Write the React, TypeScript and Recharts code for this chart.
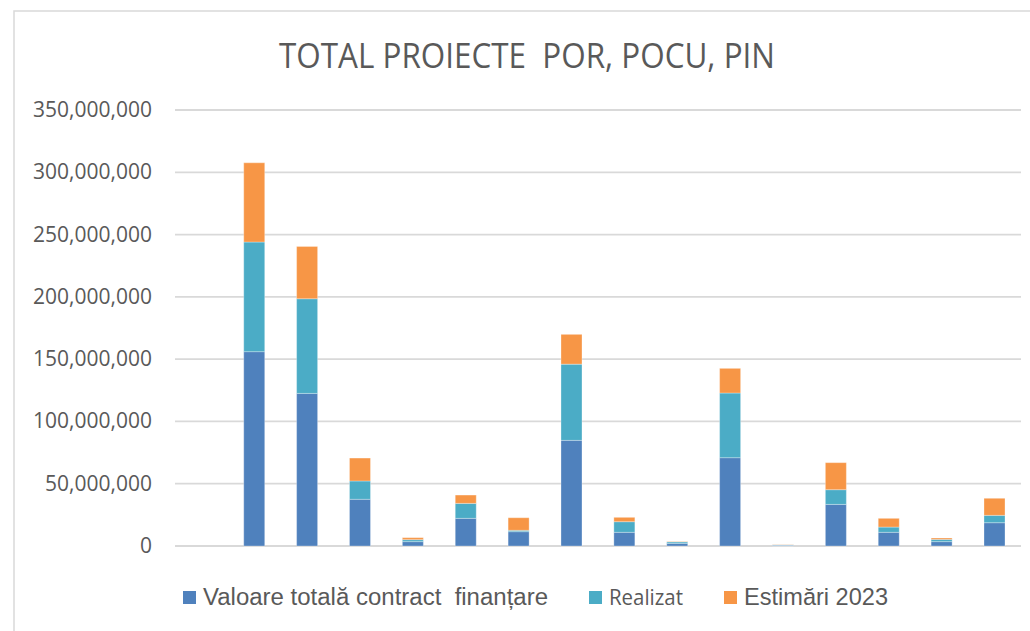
import { Bar, BarChart, CartesianGrid, XAxis, YAxis } from 'recharts'

// 16 slots on the x axis, the first one is empty; no labels are shown in the source
const categories = ['', 'P1', 'P2', 'P3', 'P4', 'P5', 'P6', 'P7', 'P8', 'P9', 'P10', 'P11', 'P12', 'P13', 'P14', 'P15']

const valoareTotala = [null, 156000000, 122500000, 37500000, 3500000, 22200000, 11500000, 84800000, 11000000, 2100000, 70900000, 600000, 33400000, 11000000, 3500000, 18700000]
const realizat = [null, 88000000, 76000000, 14700000, 1600000, 12000000, 1100000, 61200000, 8500000, 1200000, 51900000, 300000, 11800000, 4200000, 1800000, 5900000]
const estimari2023 = [null, 63600000, 42000000, 18400000, 1600000, 6700000, 10100000, 23900000, 3500000, 300000, 19800000, 200000, 21700000, 7000000, 1100000, 13700000]

const yTicks = [0, 50000000, 100000000, 150000000, 200000000, 250000000, 300000000, 350000000]

const seriesKeys = ['valoare', 'realizat', 'estimari']
const seriesNames = ['Valoare totală contract  finanțare', 'Realizat', 'Estimări 2023']
const seriesColors = ['#4F81BD', '#4BACC6', '#F79646']

const chartData = categories.map((name, i) => ({
  name,
  valoare: valoareTotala[i],
  realizat: realizat[i],
  estimari: estimari2023[i],
}))

const fmt = (v: number) => v.toLocaleString('en-US')

function YTick(props: any) {
  const { x, y, payload } = props
  return (
    <text
      x={x - 15}
      y={y + 7}
      textAnchor="end"
      fontFamily="'Open Sans', sans-serif"
      fontSize={21}
      fill="#595959"
    >
      {fmt(payload.value)}
    </text>
  )
}

// legend placement as in the source picture (square x, text x, text width, font)
const legendLayout = [
  { sq: 183, tx: 203, w: 345, font: "'Liberation Sans', Arial, sans-serif", size: 23.5 },
  { sq: 589, tx: 609, w: 74, font: "'Open Sans', sans-serif", size: 21 },
  { sq: 724, tx: 744, w: 144, font: "'Liberation Sans', Arial, sans-serif", size: 24.5 },
]

export default function App() {
  return (
    <div style={{ position: 'absolute', left: 0, top: 0, width: 1030, height: 631, background: '#fff', overflow: 'hidden' }}>
      <div style={{ position: 'absolute', left: 0, top: 0 }}>
        <BarChart
          width={1030}
          height={631}
          data={chartData}
          margin={{ top: 110, right: 9, bottom: 85, left: 15 }}
          barCategoryGap="30%"
        >
          <CartesianGrid vertical={false} stroke="#d9d9d9" strokeWidth={1.8} />
          <XAxis dataKey="name" hide />
          <YAxis
            width={160}
            domain={[0, 350000000]}
            ticks={yTicks}
            interval={0}
            axisLine={false}
            tickLine={false}
            tick={<YTick />}
          />
          {seriesKeys.map((k, i) => (
            <Bar
              key={k}
              dataKey={k}
              name={seriesNames[i]}
              stackId="a"
              fill={seriesColors[i]}
              stroke="#ffffff"
              strokeOpacity={0.3}
              isAnimationActive={false}
            />
          ))}
        </BarChart>
      </div>
      <svg width={1030} height={631} style={{ position: 'absolute', left: 0, top: 0, pointerEvents: 'none' }}>
        <rect x={14} y={11} width={1040} height={640} fill="none" stroke="#d9d9d9" strokeWidth={1.5} />
        <text
          x={279}
          y={67.5}
          fontFamily="'Open Sans', sans-serif"
          fontSize={34}
          fill="#595959"
          textLength={496}
          lengthAdjust="spacingAndGlyphs"
          style={{ whiteSpace: 'pre' }}
        >
          TOTAL PROIECTE  POR, POCU, PIN
        </text>
        {legendLayout.map((l, i) => (
          <g key={seriesNames[i]}>
            <rect x={l.sq} y={591} width={13} height={13} fill={seriesColors[i]} />
            <text
              x={l.tx}
              y={604.5}
              fontFamily={l.font}
              fontSize={l.size}
              fill="#595959"
              textLength={l.w}
              lengthAdjust="spacingAndGlyphs"
              style={{ whiteSpace: 'pre' }}
            >
              {seriesNames[i]}
            </text>
          </g>
        ))}
      </svg>
    </div>
  )
}
